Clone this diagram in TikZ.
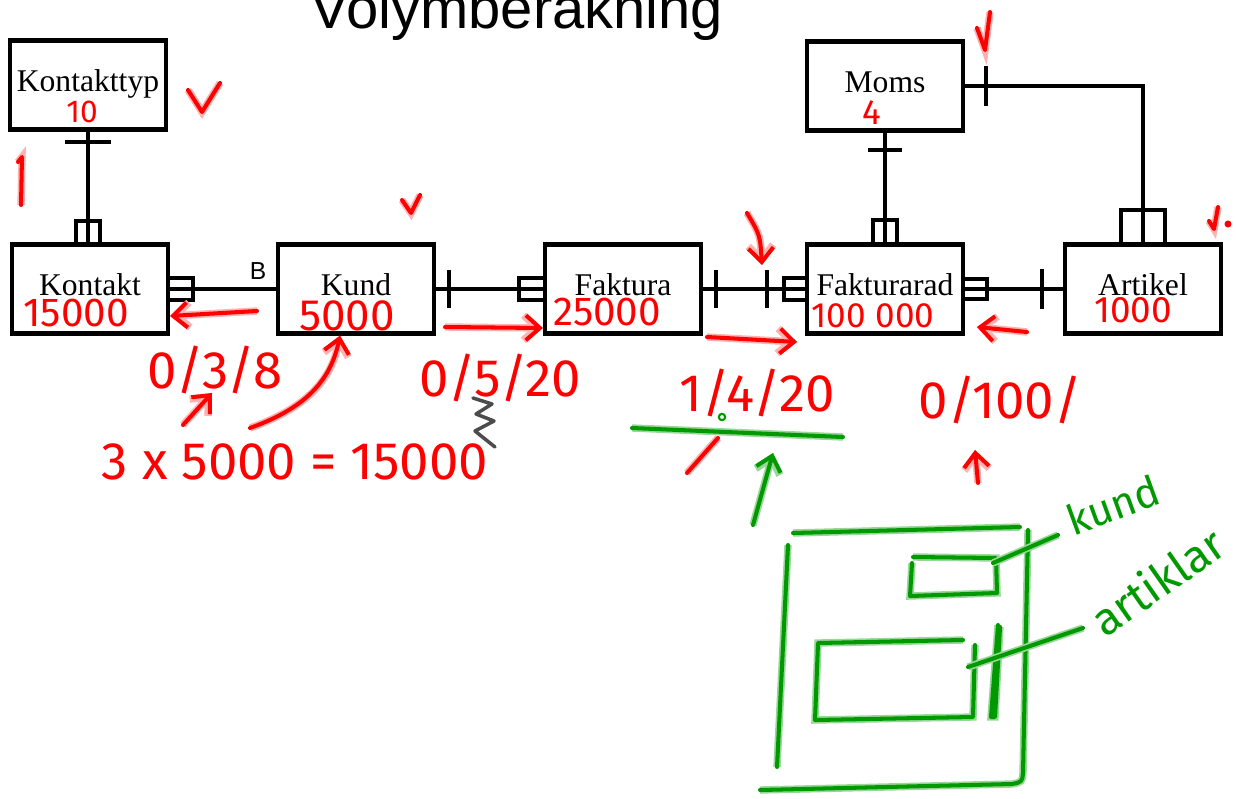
\documentclass[tikz,border=0pt]{standalone}
\usepackage{fontspec}
\setmainfont{Liberation Serif}
\newfontfamily\titlefont{Liberation Sans}
\newfontfamily\handfont{Fira Sans}
\usetikzlibrary{arrows.meta,calc}

\tikzset{
  entity/.style={draw, line width=2.4pt, minimum width=3.12cm, minimum height=1.78cm,
    inner sep=0pt, text height=0.5cm, text depth=0.26cm, font=\fontsize{18}{20}\selectfont},
  rel/.style={line width=2.2pt},
  redpen/.style={red, line width=2.3pt, line cap=round, line join=round,
    preaction={draw=red!30, line width=4.2pt}},
  greenpen/.style={green!60!black, line width=2.3pt, line cap=round, line join=round,
    preaction={draw=green!60!black!40, line width=4.2pt}},
  handarrow/.style={-{Straight Barb[length=0.28cm,width=0.5cm]}},
  redtext/.style={red, inner sep=0pt, font=\handfont\fontsize{#1}{#1}\selectfont},
  redtext/.default=20,
  greentext/.style={green!60!black, inner sep=0pt, font=\handfont\fontsize{#1}{#1}\selectfont},
}

\begin{document}
\begin{tikzpicture}[x=0.02cm,y=-0.02cm]
\useasboundingbox (0,0) rectangle (1236,798);
\clip (0,0) rectangle (1236,798);
\fill[white] (0,0) rectangle (1236,798);

% Title
\node[anchor=base, inner sep=0pt, font=\titlefont\fontsize{33}{36}\selectfont] (title) at (517,28) {Volymberäkning};

% Entities
\node[entity] (kontakttyp) at (88,85) {Kontakttyp};
\node[entity] (kontakt) at (90,289) {Kontakt};
\node[entity] (kund) at (356,289) {Kund};
\node[entity] (faktura) at (623,289) {Faktura};
\node[entity] (fakturarad) at (885,289) {Fakturarad};
\node[entity] (artikel) at (1143,289) {Artikel};
\node[entity] (moms) at (885,86) {Moms};

% Kontakttyp -- Kontakt
\coordinate (kt-k) at (kontakttyp.south |- kontakt.north);
\draw[rel] (kontakttyp.south) -- (kt-k);
\draw[rel] ($(kontakttyp.south)+(-23,10)$) -- ++(46,0);
\draw[rel] ($(kt-k)+(-12,0)$) -- ++(0,-21) -- ++(24,0) -- ++(0,21);

% Kontakt -- Kund
\draw[rel] (kontakt.east) -- (kund.west);
\draw[rel] ($(kontakt.east)+(0,-11)$) -- ++(23,0) -- ++(0,22) -- ++(-23,0);
\node[inner sep=0pt, font=\titlefont\fontsize{14}{14}\selectfont] (b) at (258,271) {B};

% Kund -- Faktura
\draw[rel] (kund.east) -- (faktura.west);
\draw[rel] ($(kund.east)+(13,-19)$) -- ++(0,38);
\draw[rel] ($(faktura.west)+(0,-11)$) -- ++(-24,0) -- ++(0,22) -- ++(24,0);

% Faktura -- Fakturarad
\draw[rel] (faktura.east) -- (fakturarad.west);
\draw[rel] ($(faktura.east)+(13,-19)$) -- ++(0,38);
\draw[rel] ($(fakturarad.west)+(-38,-19)$) -- ++(0,38);
\draw[rel] ($(fakturarad.west)+(0,-11)$) -- ++(-21,0) -- ++(0,22) -- ++(21,0);

% Fakturarad -- Artikel
\draw[rel] (fakturarad.east) -- (artikel.west);
\draw[rel] ($(fakturarad.east)+(0,-10)$) -- ++(22,0) -- ++(0,20) -- ++(-22,0);
\draw[rel] ($(artikel.west)+(-21,-20)$) -- ++(0,40);

% Moms -- Fakturarad
\draw[rel] (moms.south) -- (fakturarad.north);
\draw[rel] ($(moms.south)+(-17,17)$) -- ++(34,0);
\draw[rel] ($(fakturarad.north)+(-12,0)$) -- ++(0,-22) -- ++(24,0) -- ++(0,22);

% Moms -- Artikel
\draw[rel] (moms.east) -| (artikel.north);
\draw[rel] ($(moms.east)+(21,-20)$) -- ++(0,40);
\draw[rel] ($(artikel.north)+(-22,0)$) -- ++(0,-32) -- ++(44,0) -- ++(0,32);

% Volumes (red)
\node[redtext=18] (v-kontakttyp) at (82,112) {10};
\node[redtext=23] (v-kontakt) at (76,313) {15000};
\node[redtext=25] (v-kund) at (347,316) {5000};
\node[redtext=23] (v-faktura) at (607,312) {25000};
\node[redtext=20] (v-fakturarad) at (873,316) {100 000};
\node[redtext=21] (v-artikel) at (1133,310) {1000};
\node[redtext=20] (v-moms) at (872,113) {4};

% Checks
\draw[redpen] (188,90) -- (202,112) -- (220,83);
\draw[redpen] (402,200) -- (411,213) -- (420,195);
\draw[redpen] (977,28) -- (985,50) -- (990,12);
\draw[redpen] (1209,221) -- (1214,229) -- (1218,207);
\fill[red] (1228,224) circle (2pt);
\draw[redpen] (18,162) -- (22,157) -- (21,205);

% Cardinalities
\node[redtext=30] (c-kontakt) at (215,370) {0/3/8};
\node[redtext=30] (c-kund) at (500,378) {0/5/20};
\node[redtext=30] (c-faktura) at (757,393) {1/4/20};
\node[redtext=30] (c-fakturarad) at (1000,400) {0/100/};
\node[redtext=30] (calc) at (295,462) {3 x 5000 = 15000};

% Red arrows
\draw[redpen, handarrow] (257,311) -- (kontakt.east |- 0,316);
\draw[redpen, handarrow] (445,327) -- (faktura.west |- 0,328);
\draw[redpen, handarrow] (707,337) -- (797,342);
\draw[redpen, handarrow] (1027,332) -- (977,327);
\draw[redpen, handarrow] (747,213) .. controls (760,235) .. (762,265);
\draw[redpen, handarrow] (250,428) .. controls (300,410) and (330,385) .. (kund.south -| 340,0);
\draw[redpen, handarrow] (183,425) -- (212,393);
\draw[redpen, handarrow] (978,483) -- (975,450);
\draw[redpen] (687,473) -- (718,438);
\draw[black!70, line width=2pt, line cap=round, line join=round]
  (473,398) -- (492,404) -- (476,414) -- (494,421) -- (475,431) -- (495,447);

% Green sketch
\draw[greenpen] (632,428) -- (843,437);
\draw[green!60!black, line width=1.2pt] (722,417) circle (1.8pt);
\draw[greenpen, handarrow] (753,525) -- (773,453);
\draw[greenpen] (788,545) -- (777,767);
\draw[greenpen] (793,533) -- (1020,527);
\draw[greenpen] (1028,530) -- (1023,773) .. controls (1022,782) .. (1012,784) -- (760,790);
\draw[greenpen] (912,563) -- (910,596) -- (997,593) -- (996,558) -- (913,557);
\draw[greenpen] (963,640) -- (818,643) -- (815,720) -- (973,717) -- (975,645);
\draw[greenpen] (998,625) -- (991,717) -- (995,717) -- (1000,627);
\draw[greenpen] (993,563) -- (1058,535);
\draw[greenpen] (968,667) -- (1083,628);
\node[greentext=24, rotate=20] (n-kund) at (1113,505) {kund};
\node[greentext=26, rotate=35] (n-artiklar) at (1157,581) {artiklar};
\end{tikzpicture}
\end{document}
